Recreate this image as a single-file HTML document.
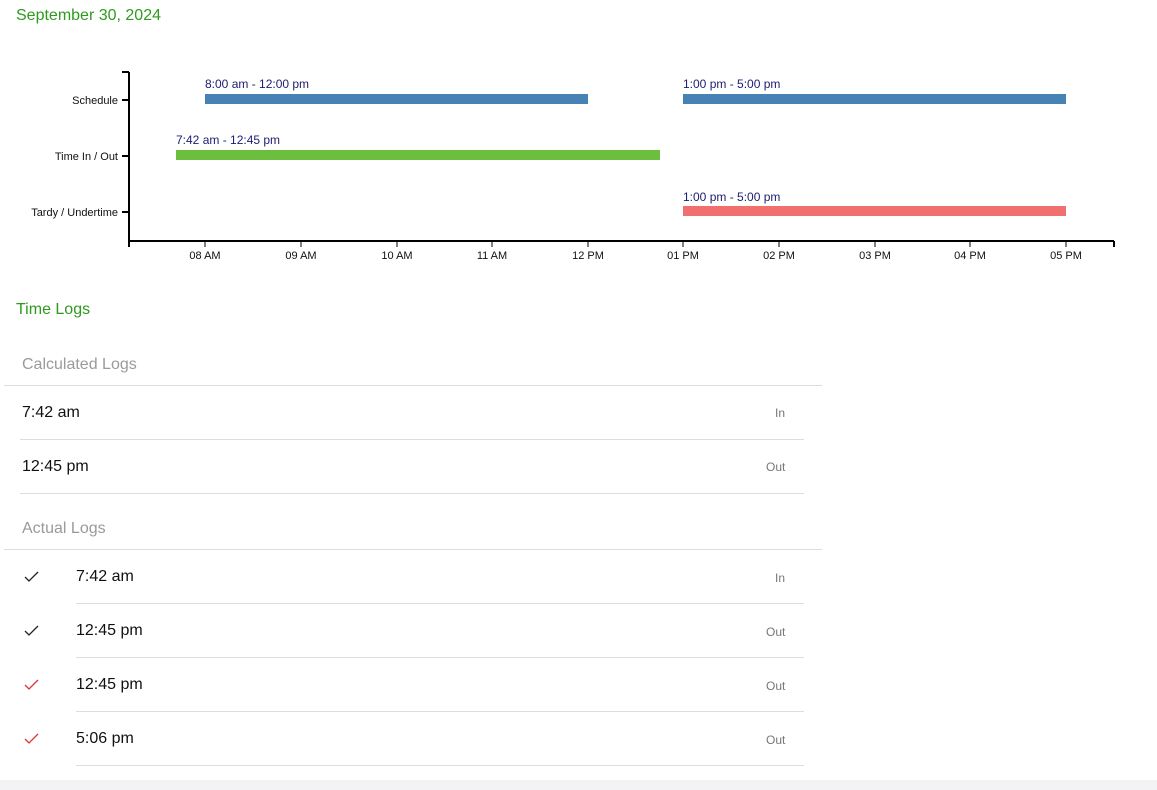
<!DOCTYPE html>
<html><head><meta charset="utf-8"><style>
body{margin:0;width:1157px;height:790px;background:#fff;font-family:"Liberation Sans",sans-serif;position:relative;overflow:hidden}
.a{position:absolute;white-space:nowrap}
.g{color:#2e9a1e;font-size:16px}
.h{color:#9a9a9a;font-size:16px}
.t{font-size:16px;color:#111}
.s{font-size:12px;color:#777}
.l{position:absolute;height:1px;background:#ddd}
</style></head><body>
<div class="a g" style="left:16px;top:7px">September 30, 2024</div>
<svg class="a" style="left:0;top:0" width="1157" height="280" font-family="Liberation Sans, sans-serif">
<g stroke="#000" stroke-width="2" fill="none">
<line x1="129" y1="72" x2="129" y2="241"/><line x1="122" y1="72" x2="129" y2="72"/>
<line x1="128" y1="241" x2="1114" y2="241"/><line x1="1114" y1="241" x2="1114" y2="247"/>
<line x1="129" y1="241" x2="129" y2="247"/>
<line x1="122" y1="100" x2="129" y2="100"/><line x1="122" y1="156" x2="129" y2="156"/><line x1="122" y1="212" x2="129" y2="212"/>
</g>
<g stroke="#000" stroke-width="1">
<line x1="205" y1="241" x2="205" y2="247"/><line x1="301" y1="241" x2="301" y2="247"/><line x1="397" y1="241" x2="397" y2="247"/><line x1="492" y1="241" x2="492" y2="247"/><line x1="588" y1="241" x2="588" y2="247"/><line x1="683" y1="241" x2="683" y2="247"/><line x1="779" y1="241" x2="779" y2="247"/><line x1="875" y1="241" x2="875" y2="247"/><line x1="970" y1="241" x2="970" y2="247"/><line x1="1066" y1="241" x2="1066" y2="247"/>
</g>
<g font-size="11" text-anchor="middle" fill="#111">
<text x="205" y="259">08 AM</text><text x="301" y="259">09 AM</text><text x="397" y="259">10 AM</text><text x="492" y="259">11 AM</text><text x="588" y="259">12 PM</text><text x="683" y="259">01 PM</text><text x="779" y="259">02 PM</text><text x="875" y="259">03 PM</text><text x="970" y="259">04 PM</text><text x="1066" y="259">05 PM</text>
</g>
<g font-size="11" text-anchor="end" fill="#111">
<text x="118" y="104">Schedule</text><text x="118" y="160">Time In / Out</text><text x="118" y="216">Tardy / Undertime</text>
</g>
<rect x="205" y="94" width="383" height="10" fill="#4682b4"/>
<rect x="683" y="94" width="383" height="10" fill="#4682b4"/>
<rect x="176" y="150" width="484" height="10" fill="#6cbf3e"/>
<rect x="683" y="206" width="383" height="10" fill="#f07070"/>
<g font-size="12" fill="#1c1c70">
<text x="205" y="88">8:00 am - 12:00 pm</text><text x="683" y="88">1:00 pm - 5:00 pm</text>
<text x="176" y="144">7:42 am - 12:45 pm</text><text x="683" y="201">1:00 pm - 5:00 pm</text>
</g>
</svg>
<div class="a g" style="left:16px;top:301px">Time Logs</div>
<div class="a h" style="left:22px;top:356px">Calculated Logs</div>
<div class="l" style="left:4px;width:818px;top:385px"></div>
<div class="a t" style="left:22px;top:404px">7:42 am</div><div class="a s" style="left:775px;top:406px">In</div>
<div class="l" style="left:20px;width:784px;top:439px"></div>
<div class="a t" style="left:22px;top:458px">12:45 pm</div><div class="a s" style="left:766px;top:460px">Out</div>
<div class="l" style="left:20px;width:784px;top:493px"></div>
<div class="a h" style="left:22px;top:520px">Actual Logs</div>
<div class="l" style="left:4px;width:818px;top:549px"></div>
<div class="a t" style="left:76px;top:568px">7:42 am</div><div class="a s" style="left:775px;top:571px">In</div>
<div class="l" style="left:76px;width:728px;top:603px"></div>
<div class="a t" style="left:76px;top:622px">12:45 pm</div><div class="a s" style="left:766px;top:625px">Out</div>
<div class="l" style="left:76px;width:728px;top:657px"></div>
<div class="a t" style="left:76px;top:676px">12:45 pm</div><div class="a s" style="left:766px;top:679px">Out</div>
<div class="l" style="left:76px;width:728px;top:711px"></div>
<div class="a t" style="left:76px;top:730px">5:06 pm</div><div class="a s" style="left:766px;top:733px">Out</div>
<div class="l" style="left:76px;width:728px;top:765px"></div>
<svg class="a" style="left:0;top:560px" width="60" height="200" fill="none" stroke-width="1.3">
<polyline points="25,17 29,21 38,12" stroke="#222"/>
<polyline points="25,71 29,75 38,66" stroke="#222"/>
<polyline points="25,125 29,129 38,120" stroke="#d33"/>
<polyline points="25,179 29,183 38,174" stroke="#d33"/>
</svg>
<div class="a" style="left:0;top:780px;width:1157px;height:10px;background:#f3f3f6"></div>
</body></html>
